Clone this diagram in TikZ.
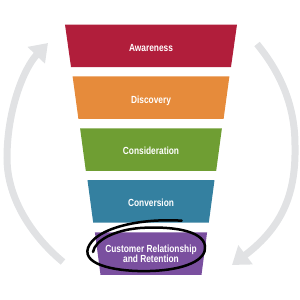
\documentclass[tikz,border=0pt]{standalone}
\usepackage{fontspec}
\setmainfont[FakeStretch=0.81]{Liberation Sans}
\usetikzlibrary{arrows.meta}
\definecolor{cAware}{HTML}{B11E3B}
\definecolor{cDisc}{HTML}{E68B3B}
\definecolor{cCons}{HTML}{6F9E33}
\definecolor{cConv}{HTML}{3480A0}
\definecolor{cCust}{HTML}{7A4F9F}
\definecolor{cArc}{HTML}{E1E2E4}
\begin{document}
\begin{tikzpicture}[x=0.3mm,y=-0.3mm,
  lab/.style={text=white,font=\bfseries\fontsize{8.8}{8.8}\selectfont,inner sep=0pt,align=center},
  cyclearrow/.style={draw=cArc,line width=2.1mm,-{Triangle[length=5.1mm,width=6.9mm]}}]
\useasboundingbox (0,0) rectangle (300,300);
% funnel stages
\fill[cAware] (65,24.5) -- (237,24.5) -- (231,67) -- (71,67) -- cycle;
\fill[cDisc] (72.6,76.4) -- (229.4,76.4) -- (223.6,118.9) -- (78.4,118.9) -- cycle;
\fill[cCons] (80.1,128.3) -- (221.9,128.3) -- (216.2,170.8) -- (85.8,170.8) -- cycle;
\fill[cConv] (87.5,180.2) -- (214.5,180.2) -- (208.8,222.7) -- (93.2,222.7) -- cycle;
\fill[cCust] (94.9,232.3) -- (207.1,232.3) -- (201.5,274.8) -- (100.5,274.8) -- cycle;
% labels
\node[lab,anchor=base] (aw) at (151,51) {Awareness};
\node[lab,anchor=base] (di) at (151,103) {Discovery};
\node[lab,anchor=base] (co) at (151,154.8) {Consideration};
\node[lab,anchor=base] (cv) at (151,206.8) {Conversion};
\node[lab] (cu) at (151,254.1) {Customer Relationship\\and Retention};
% hand-drawn loop
\draw[black,line width=0.75mm,line cap=round]
  (181.7,220.7) .. controls (140,218) and (95,228) .. (88,248)
  .. controls (82,266) and (120,272) .. (150,271)
  .. controls (185,270) and (207,260) .. (205,246)
  .. controls (203,230) and (170,226) .. (140,228)
  .. controls (115,230) and (95,240) .. (93,252);
% cycle arrows
\coordinate (lstart) at (63,262);
\coordinate (lmid) at (7,158);
\coordinate (ltip) at (48,43);
\coordinate (rstart) at (257,44);
\coordinate (rmid) at (295,145);
\coordinate (rtip) at (232,265);
\draw[cyclearrow] (lstart) .. controls (34,238) and (7,200) .. (lmid)
  .. controls (7,110) and (24,68) .. (ltip);
\draw[cyclearrow] (rstart) .. controls (280,72) and (295,105) .. (rmid)
  .. controls (296,190) and (285,225) .. (rtip);
\end{tikzpicture}
\end{document}
